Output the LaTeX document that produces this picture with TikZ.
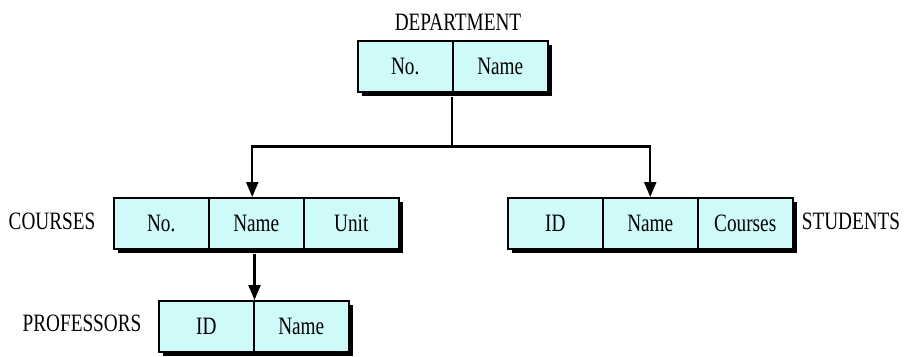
\documentclass[tikz,border=0pt]{standalone}
\usepackage{fontspec}
\setmainfont{Liberation Serif}[FakeStretch=0.77]
\usetikzlibrary{arrows.meta,shadows}
\definecolor{cellfill}{RGB}{206,250,250}
\begin{document}
\begin{tikzpicture}[x=1pt,y=-1pt,
  every node/.style={font=\fontsize{25pt}{27pt}\selectfont, inner sep=0pt},
  cell/.style={draw=black, line width=1.5pt, fill=cellfill, anchor=north west,
    minimum width=95pt, minimum height=51pt,
    drop shadow={shadow xshift=4pt, shadow yshift=-4pt, opacity=1, fill=black}},
  lbl/.style={},
  link/.style={line width=2.2pt},
  arrow/.style={link, -{Triangle[width=12pt,length=15pt]}}]
\useasboundingbox (0,0) rectangle (915,356);

% DEPARTMENT record
\node[cell] (dno)   at (357,40) {No.};
\node[cell] (dname) at (452,40) {Name};
\node[lbl] (dlbl) at (458,22) {DEPARTMENT};

% COURSES record
\node[cell] (cno)   at (113,197) {No.};
\node[cell] (cname) at (208,197) {Name};
\node[cell] (cunit) at (303,197) {Unit};
\node[lbl] (clbl) at (52,221) {COURSES};

% STUDENTS record
\node[cell] (sid)     at (507,197) {ID};
\node[cell] (sname)   at (602,197) {Name};
\node[cell] (scourse) at (697,197) {Courses};
\node[lbl] (slbl) at (851,221) {STUDENTS};

% PROFESSORS record
\node[cell] (pid)   at (158,300) {ID};
\node[cell] (pname) at (253,300) {Name};
\node[lbl] (plbl) at (82,323) {PROFESSORS};

% connectors
\draw[link] ([yshift=-4pt]dname.south west) -- ++(0,50) coordinate (split);
\draw[arrow] (split) -| ([xshift=-4pt]cname.north);
\draw[arrow] (split) -| (sname.north);
\draw[arrow] ([yshift=-4pt]cname.south -| pid.north east) -- (pid.north east);
\end{tikzpicture}
\end{document}
